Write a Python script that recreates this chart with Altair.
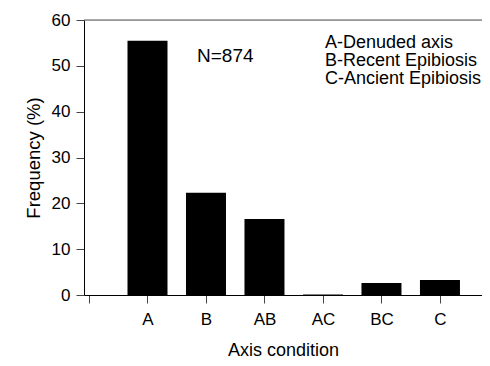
import altair as alt
import pandas as pd

categories = ["A", "B", "AB", "AC", "BC", "C"]
frequency = [55.5, 22.3, 16.6, 0.1, 2.6, 3.3]
legend_lines = ["A-Denuded axis", "B-Recent Epibiosis", "C-Ancient Epibiosis"]
n_label = "N=874"

df = pd.DataFrame({
    "cat": categories,
    "pos": list(range(1, len(categories) + 1)),
    "freq": frequency,
})

FONT = "Liberation Sans"
W = 398
label_expr = "[''," + ",".join(f"'{c}'" for c in categories) + "][datum.value]"

x = alt.X("pos:Q",
          scale=alt.Scale(domain=[0, W / 60], nice=False, zero=False),
          axis=alt.Axis(values=list(range(0, 7)), labelExpr=label_expr,
                        title="Axis condition", grid=False,
                        labelFontSize=17, titleFontSize=18, labelPadding=8,
                        titlePadding=14, tickSize=8, tickColor="#444",
                        domainColor="black", labelColor="black",
                        titleColor="black", labelFont=FONT, titleFont=FONT,
                        titleFontWeight="normal"))
y = alt.Y("freq:Q",
          scale=alt.Scale(domain=[0, 60], nice=False),
          axis=alt.Axis(values=[0, 10, 20, 30, 40, 50, 60],
                        title="Frequency (%)", grid=False,
                        labelFontSize=17, titleFontSize=18.5, labelPadding=6,
                        titlePadding=8, tickSize=8, tickColor="#444",
                        domainColor="black", labelColor="black",
                        titleColor="black", labelFont=FONT, titleFont=FONT,
                        titleFontWeight="normal"))

bars = alt.Chart(df).mark_bar(color="black", size=40).encode(x=x, y=y)

top = alt.Chart(pd.DataFrame({"v": [60]})).mark_rule(color="#555", strokeWidth=1).encode(
    y=alt.Y("v:Q", scale=alt.Scale(domain=[0, 60], nice=False), axis=None),
    x=alt.value(0), x2=alt.value(W))

ntext = alt.Chart(pd.DataFrame({"t": [n_label]})).mark_text(
    font=FONT, fontSize=19, align="left", baseline="middle", color="black"
).encode(text="t:N", x=alt.value(113), y=alt.value(36))

leg = alt.Chart(pd.DataFrame({"t": legend_lines, "i": [0, 1, 2]})).mark_text(
    font=FONT, fontSize=18, align="left", baseline="middle", color="black"
).encode(text="t:N", x=alt.value(241),
         y=alt.Y("i:Q", scale=alt.Scale(domain=[0, 2], range=[23, 59]), axis=None))

chart = alt.layer(bars, top, ntext, leg).resolve_scale(y="independent").properties(
    width=W, height=275,
    autosize=alt.AutoSizeParams(type="none"),
    padding={"left": 76, "top": 12, "right": 0, "bottom": 63},
).configure_view(stroke=None).configure(background="white")

chart.save("out.html", embed_options={"renderer": "svg", "actions": False})
